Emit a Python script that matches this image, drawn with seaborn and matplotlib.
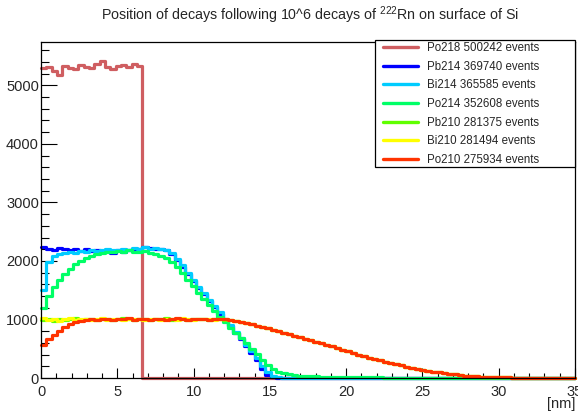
import numpy as np
import pandas as pd
import matplotlib
matplotlib.use("Agg")
import matplotlib.pyplot as plt
from matplotlib.lines import Line2D
from matplotlib.patches import Rectangle
from matplotlib.ticker import MultipleLocator
import seaborn as sns

# ---------------- data (counts per 0.07 nm bin, sampled on 0.35 nm bins) ----------------
x_min, x_max, n_bins = 0.0, 35.0, 100

po218 = [5290, 5310, 5250, 5180, 5330, 5300, 5280, 5340, 5320, 5300,
         5360, 5420, 5310, 5280, 5330, 5350, 5310, 5370, 5330] + [0] * 81

pb214 = [2230, 2210, 2190, 2220, 2200, 2180, 2210, 2170, 2200, 2170,
         2180, 2160, 2170, 2140, 2180, 2160, 2190, 2200, 2210, 2230,
         2220, 2200, 2210,
         2180, 2120, 2020, 1900, 1780, 1660, 1540, 1430, 1320, 1210,
         1100, 990, 880, 770, 660, 550, 430, 300, 160, 50, 10, 2, 0] + [0] * 54

bi214 = [1500, 1990, 2080, 2110, 2130, 2150, 2140, 2170, 2160, 2180,
         2170, 2190, 2200, 2180, 2190, 2200, 2190, 2220, 2200, 2230,
         2210, 2220, 2200,
         2190, 2140, 2040, 1930, 1800, 1680, 1560, 1450, 1340, 1230,
         1120, 1010, 900, 790, 680, 570, 460, 340, 210, 100, 35, 10, 3, 0] + [0] * 53

po214 = [1200, 1400, 1560, 1680, 1780, 1870, 1940, 2000, 2050, 2090,
         2120, 2140, 2160, 2150, 2170, 2160, 2180, 2160, 2150, 2170,
         2140, 2120, 2090,
         2050, 1980, 1890, 1790, 1680, 1570, 1460, 1350, 1240, 1140,
         1040, 950, 860, 770, 680, 590, 500, 410, 300, 215,
         150, 105, 78, 60, 48, 41, 36, 32, 28, 25,
         23, 21, 19, 17, 15, 14, 13, 12, 11, 10,
         9, 8, 8, 7, 7, 6, 6, 5, 5, 5,
         4, 4, 4, 3, 3, 3, 3, 2, 2, 2,
         2, 2, 2, 1, 1, 1, 1, 1, 1, 1,
         1, 1, 1, 1, 1, 0, 0]

tail210 = [990, 975, 955, 935, 915, 895, 870, 850, 825, 800,
           775, 750, 725, 700, 670, 645, 620, 590, 565, 540,
           510, 485, 455, 430, 400, 375, 350, 325, 300, 280,
           255, 235, 215, 195, 175, 155, 140, 122, 108, 95,
           82, 70, 60, 50, 42, 35, 29, 24, 20, 16,
           13, 11, 9, 7, 6, 5, 4, 3, 3, 2,
           2, 2, 1, 1, 1]

pb210 = [990, 1000, 980, 1010, 990, 1000, 1020, 990, 1000, 1010,
         990, 1000, 1010, 990, 1000, 1020, 1000, 990, 1010, 1000,
         990, 1010, 1000, 1020, 990, 1000, 1010, 990, 1000, 1010,
         1000, 990, 1010, 1000, 990] + tail210

bi210 = [1030, 990, 1010, 980, 1000, 1020, 990, 1000, 1010, 990,
         1000, 1020, 990, 1000, 1010, 990, 1000, 1010, 1000, 990,
         1010, 1000, 990, 1010, 1000, 990, 1020, 1000, 990, 1010,
         1000, 1010, 990, 1000, 1010] + tail210

po210 = [560, 660, 740, 800, 870, 930, 960, 980, 990, 1000,
         990, 1010, 1000, 990, 1010, 1000, 1020, 990, 1000, 1010,
         990, 1000, 1010, 990, 1000, 1020, 1000, 990, 1010, 1000,
         1010, 990, 1000, 1010, 1000] + tail210

series_names = ["Po218", "Pb214", "Bi214", "Po214", "Pb210", "Bi210", "Po210"]
series_values = [po218, pb214, bi214, po214, pb210, bi210, po210]
series_events = [500242, 369740, 365585, 352608, 281375, 281494, 275934]
series_colors = ["#cf5e61", "#0000ff", "#00ccff", "#00ff66", "#5fff00", "#ffff00", "#ff3300"]

title = r"Position of decays following 10^6 decays of $^{222}$Rn on surface of Si"
x_label = "[nm]"

# ---------------- figure ----------------
sns.set_theme(style="white")
plt.rcParams["font.family"] = ["Liberation Sans", "DejaVu Sans"]
plt.rcParams["mathtext.default"] = "regular"

W, H = 578, 412
fig = plt.figure(figsize=(W / 100, H / 100), dpi=100)
fig.patch.set_facecolor("white")
ax = fig.add_axes([41 / W, 1 - 378 / H, (575 - 41) / W, (378 - 42) / H])
ax.set_facecolor("white")

edges = np.linspace(x_min, x_max, n_bins + 1)

for name, vals, col in zip(series_names, series_values, series_colors):
    df = pd.DataFrame({"x": edges, "y": list(vals) + [vals[-1]]})
    sns.lineplot(data=df, x="x", y="y", drawstyle="steps-post", estimator=None,
                 sort=False, color=col, linewidth=2.3, ax=ax, clip_on=False)

ax.set_xlim(0, 35)
ax.set_ylim(0, 5740)
ax.set_xlabel("")
ax.set_ylabel("")

for s in ax.spines.values():
    s.set_color("black")
    s.set_linewidth(0.9)

ax.xaxis.set_major_locator(MultipleLocator(5))
ax.xaxis.set_minor_locator(MultipleLocator(1))
ax.yaxis.set_major_locator(MultipleLocator(1000))
ax.yaxis.set_minor_locator(MultipleLocator(200))
ax.tick_params(axis="x", which="major", direction="in", length=7.2, width=0.8,
               color="black", labelsize=10.5, pad=5, bottom=True, top=False)
ax.tick_params(axis="x", which="minor", direction="in", length=3.6, width=0.8,
               color="black", bottom=True, top=False)
ax.tick_params(axis="y", which="major", direction="in", length=11.5, width=0.8,
               color="black", labelsize=10.5, pad=1.5, left=True, right=False)
ax.tick_params(axis="y", which="minor", direction="in", length=5.8, width=0.8,
               color="black", left=True, right=False)
ax.grid(False)

# legend box (frame drawn separately so the inner padding matches)
box = Rectangle((375 / W, 1 - 167 / H), 200 / W, 127.5 / H, transform=fig.transFigure,
                facecolor="white", edgecolor="black", linewidth=0.9, zorder=3)
fig.add_artist(box)

handles = [Line2D([0], [0], color=c, lw=2.4) for c in series_colors]
labels = [f"{n} {e} events" for n, e in zip(series_names, series_events)]
leg = fig.legend(handles, labels, loc="upper left",
                 bbox_to_anchor=(383 / W, 1 - 42.3 / H),
                 bbox_transform=fig.transFigure,
                 fontsize=8.3, frameon=False,
                 borderpad=0, labelspacing=0.57, handlelength=3.05,
                 handletextpad=0.73, borderaxespad=0)
leg.set_zorder(4)

fig.text(310 / W, 1 - 15 / H, title, ha="center", va="center", fontsize=10.3)
fig.text(575 / W, 1 - 404 / H, x_label, ha="right", va="center", fontsize=10.5)

fig.savefig("out.png", dpi=100)
